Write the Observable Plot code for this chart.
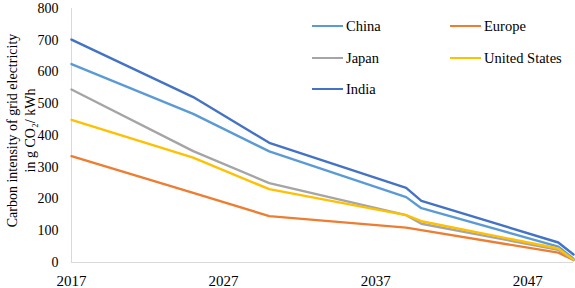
<!DOCTYPE html>
<html>
<head>
<meta charset="utf-8">
<script src="https://cdn.jsdelivr.net/npm/d3@7"></script>
<script src="https://cdn.jsdelivr.net/npm/@observablehq/plot@0.6"></script>
<style>
  html, body { margin: 0; padding: 0; background: #fff; }
  #wrap { position: relative; width: 575px; height: 288px; font-family: 'Liberation Serif', 'Times New Roman', 'DejaVu Serif', serif; }
  .legend-item { position: absolute; display: flex; align-items: center; height: 20px; font-size: 14.5px; color: #000; white-space: nowrap; font-family: 'Liberation Serif', 'Times New Roman', serif; }
  .legend-swatch { width: 31px; height: 2.5px; margin-right: 3px; }
</style>
</head>
<body>
<div id="wrap"></div>
<script>
const years = [2017, 2025, 2030, 2039, 2040, 2049, 2050];
const china = [625, 468, 350, 206, 171, 50, 12];
const europe = [335, 219, 146, 110, 102, 31, 8];
const japan = [545, 351, 250, 149, 122, 40, 8];
const unitedStates = [449, 330, 231, 149, 130, 44, 9];
const india = [702, 521, 377, 235, 194, 63, 25];

const seriesNames = ["China", "Europe", "Japan", "United States", "India"];
const seriesValues = [china, europe, japan, unitedStates, india];
const seriesColors = ["#5B9BD5", "#ED7D31", "#A5A5A5", "#FFC000", "#4472C4"];

const xTicks = [2017, 2027, 2037, 2047];
const yTicks = [0, 100, 200, 300, 400, 500, 600, 700, 800];
const yTitle = "Carbon intensity of grid electricity\nin g CO\u2082/ kWh";

const rows = [];
seriesNames.forEach((name, i) => {
  years.forEach((yr, j) => rows.push({series: name, year: yr, value: seriesValues[i][j]}));
});

const chart = Plot.plot({
  width: 575,
  height: 288,
  marginLeft: 71,
  marginRight: 2,
  marginTop: 8,
  marginBottom: 26,
  style: {fontFamily: "'Liberation Serif', 'Times New Roman', serif", fontSize: "14px", color: "#000", background: "#fff"},
  x: {domain: [2017, 2050], label: null},
  y: {domain: [0, 800], label: null},
  color: {domain: seriesNames, range: seriesColors},
  marks: [
    Plot.axisX({ticks: xTicks, tickFormat: d => String(d), tickSize: 0, tickPadding: 13, fontSize: 15, label: null, fill: "#000"}),
    Plot.axisY({ticks: yTicks, tickSize: 0, tickPadding: 13, fontSize: 14, label: null, fill: "#000"}),
    Plot.ruleX([2017], {stroke: "#D9D9D9", strokeWidth: 1}),
    Plot.ruleY([0], {stroke: "#D9D9D9", strokeWidth: 1}),
    Plot.line(rows, {x: "year", y: "value", z: "series", stroke: "series", strokeWidth: 2.4, curve: "linear", strokeLinejoin: "round", strokeLinecap: "round"}),
    Plot.text([yTitle], {frameAnchor: "left", rotate: -90, dx: -51, dy: -5, lineHeight: 1.25, fontSize: 14, fill: "#000", textAnchor: "middle"})
  ]
});

const wrap = document.getElementById("wrap");
wrap.appendChild(chart);

// legend (HTML overlay)
const legendPos = [
  {left: 312, top: 16}, {left: 450, top: 16},
  {left: 312, top: 48}, {left: 450, top: 48},
  {left: 312, top: 79}
];
seriesNames.forEach((name, i) => {
  const item = document.createElement("div");
  item.className = "legend-item";
  item.style.left = legendPos[i].left + "px";
  item.style.top = legendPos[i].top + "px";
  const sw = document.createElement("div");
  sw.className = "legend-swatch";
  sw.style.background = seriesColors[i];
  const label = document.createElement("span");
  label.textContent = name;
  item.appendChild(sw);
  item.appendChild(label);
  wrap.appendChild(item);
});
</script>
</body>
</html>
